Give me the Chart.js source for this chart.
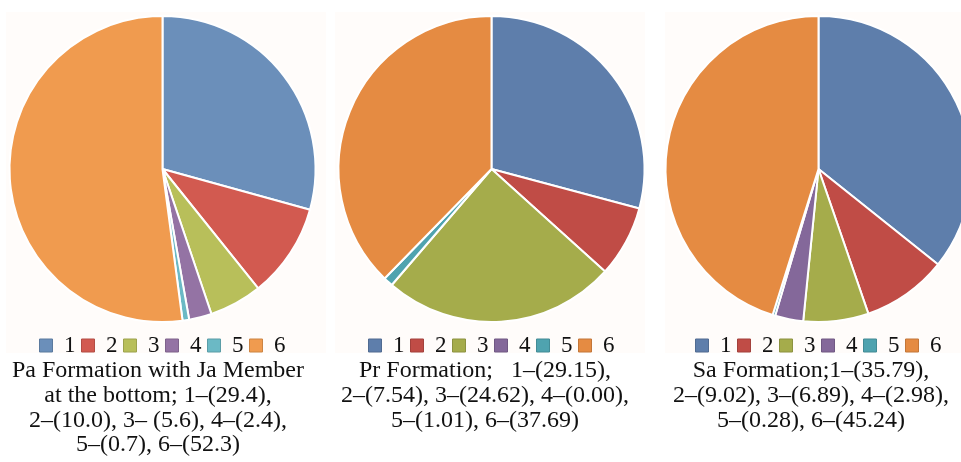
<!DOCTYPE html>
<html>
<head>
<meta charset="utf-8">
<script src="https://cdn.jsdelivr.net/npm/chart.js@4"></script>
<style>
  html, body { margin: 0; padding: 0; background: #ffffff; }
  body { width: 961px; height: 462px; overflow: hidden; position: relative; }
  .panel-bg { position: absolute; background: #fffcfa; }
  .chart-box { position: absolute; top: 0; width: 325px; height: 367px; }
  .caption {
    position: absolute; top: 357px; width: 340px;
    font-family: "Liberation Serif", "Times New Roman", serif;
    font-size: 24px; line-height: 24.8px; color: #111;
    text-align: center; white-space: pre;
  }
</style>
</head>
<body>
<div class="panel-bg" style="left:6px;top:12px;width:320px;height:341px"></div>
<div class="panel-bg" style="left:335px;top:12px;width:310px;height:341px"></div>
<div class="panel-bg" style="left:665px;top:12px;width:296px;height:341px"></div>

<div class="chart-box" style="left:0px"><canvas id="pa"></canvas></div>
<div class="chart-box" style="left:329px"><canvas id="pr"></canvas></div>
<div class="chart-box" style="left:656px"><canvas id="sa"></canvas></div>

<div class="caption" id="cap-pa" style="left:-12px"></div>
<div class="caption" id="cap-pr" style="left:315px"></div>
<div class="caption" id="cap-sa" style="left:641px"></div>

<script>
// Component numbers shared by all three formations
const categories = ['1', '2', '3', '4', '5', '6'];

// Percentage shares per formation
const paValues = [29.4, 10.0, 5.6, 2.4, 0.7, 52.3];
const prValues = [29.15, 7.54, 24.62, 0.00, 1.01, 37.69];
const saValues = [35.79, 9.02, 6.89, 2.98, 0.28, 45.24];

// Caption lines under each pie
const paCaption = ['Pa Formation with Ja Member', 'at the bottom; 1\u2013(29.4),', '2\u2013(10.0), 3\u2013 (5.6), 4\u2013(2.4),', '5\u2013(0.7), 6\u2013(52.3)'];
const prCaption = ['Pr Formation;   1\u2013(29.15),', '2\u2013(7.54), 3\u2013(24.62), 4\u2013(0.00),', '5\u2013(1.01), 6\u2013(37.69)'];
const saCaption = ['Sa Formation;1\u2013(35.79),', '2\u2013(9.02), 3\u2013(6.89), 4\u2013(2.98),', '5\u2013(0.28), 6\u2013(45.24)'];

// Slice colours
const lightColors = ['#6b8fba', '#d25a50', '#b8bf5a', '#9473a4', '#6bb9c5', '#f09b4f'];
const darkColors  = ['#5e7eab', '#c04c46', '#a5ac4b', '#84689a', '#4fa3af', '#e58b42'];

function darken(hex, f) {
  const n = parseInt(hex.slice(1), 16);
  const r = Math.round(((n >> 16) & 255) * f), g = Math.round(((n >> 8) & 255) * f), b = Math.round((n & 255) * f);
  return 'rgb(' + r + ',' + g + ',' + b + ')';
}

function makePie(id, values, colors) {
  const baseLabels = Chart.overrides.pie.plugins.legend.labels.generateLabels;
  new Chart(document.getElementById(id), {
    type: 'pie',
    data: {
      labels: categories,
      datasets: [{
        data: values,
        backgroundColor: colors,
        borderColor: '#ffffff',
        borderWidth: 2
      }]
    },
    options: {
      responsive: true,
      maintainAspectRatio: false,
      animation: false,
      radius: 153,
      layout: { padding: { top: 10, bottom: 0 } },
      plugins: {
        tooltip: { enabled: false },
        legend: {
          position: 'bottom',
          labels: {
            boxWidth: 13,
            boxHeight: 13,
            padding: 6,
            color: '#111',
            font: { family: '"Liberation Serif", "Times New Roman", serif', size: 23 },
            generateLabels(chart) {
              return baseLabels(chart).map((item, i) => {
                item.strokeStyle = darken(colors[i], 0.85);
                item.lineWidth = 1;
                return item;
              });
            }
          },
          onClick: null
        }
      }
    }
  });
}

function setCaption(id, lines) {
  document.getElementById(id).textContent = lines.join('\n');
}

makePie('pa', paValues, lightColors);
makePie('pr', prValues, darkColors);
makePie('sa', saValues, darkColors);

setCaption('cap-pa', paCaption);
setCaption('cap-pr', prCaption);
setCaption('cap-sa', saCaption);
</script>
</body>
</html>
